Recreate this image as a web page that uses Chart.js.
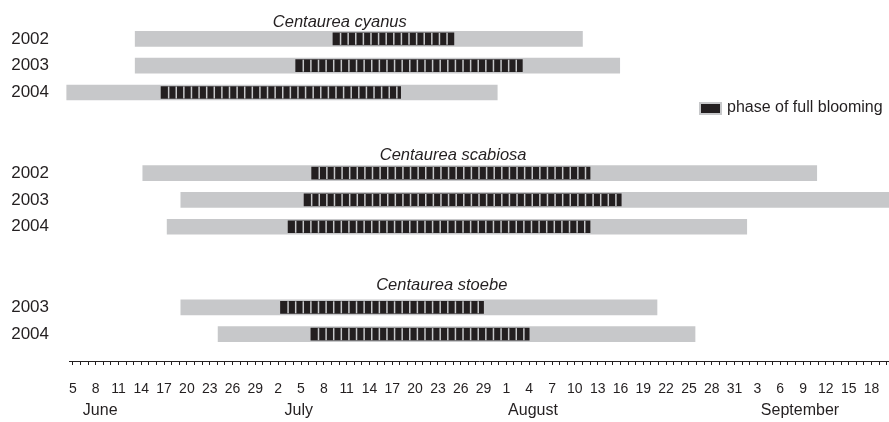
<!DOCTYPE html>
<html>
<head>
<meta charset="utf-8">
<script src="https://cdn.jsdelivr.net/npm/chart.js@4.4.1/dist/chart.umd.min.js"></script>
<style>
body { margin: 0; background: #fff; }
#wrap { width: 889px; height: 422px; }
</style>
</head>
<body>
<div id="wrap"><canvas id="phenology"></canvas></div>
<script>
// day numbers counted from May 31: 1 = June 1, 31 = July 1, 62 = August 1, 93 = September 1
const rowLabels = ['', '2002', '2003', '2004', '', '', '2002', '2003', '2004', '', '', '2003', '2004', ''];
const floweringPeriod = [null, [13.2, 72.0], [13.2, 76.9], [4.2, 60.8], null, null,
    [14.2, 102.8], [19.2, 112.3], [17.4, 93.6], null, null, [19.2, 81.8], [24.1, 86.8], null];
const fullBlooming = [null, [39.2, 55.1], [34.3, 64.1], [16.6, 48.1], null, null,
    [36.4, 73.0], [35.4, 77.1], [33.3, 73.0], null, null, [32.3, 59.0], [36.3, 65.0], null];

const species = ['Centaurea cyanus', 'Centaurea scabiosa', 'Centaurea stoebe'];
const speciesDay = [40.1, 55.0, 53.5];
const speciesRow = [0.37, 5.33, 10.17];

const monthNames = ['June', 'July', 'August', 'September'];
const monthStarts = [1, 31, 62, 93];
const monthLabelDays = [8.6, 34.7, 65.5, 100.6];

const firstDay = 5;
const lastDay = 112;
const legendText = 'phase of full blooming';

const ink = '#231f20';
const grey = '#c7c8ca';

Chart.defaults.font.family = 'Liberation Sans, Arial, sans-serif';
Chart.defaults.color = ink;

function dayOfMonth(v) {
    let start = monthStarts[0];
    monthStarts.forEach(s => { if (v >= s) start = s; });
    return v - start + 1;
}

function noSidePadding(scale) {
    scale.paddingLeft = 0;
    scale.paddingRight = 0;
}

// light gaps between the daily blocks of full blooming + species names + legend
const decorations = {
    id: 'decorations',
    afterDatasetsDraw(chart) {
        const ctx = chart.ctx;
        const x = chart.scales.x;
        const y = chart.scales.y;
        const meta = chart.getDatasetMeta(1);

        ctx.save();
        ctx.strokeStyle = grey;
        ctx.lineWidth = 1.5;
        meta.data.forEach((bar, i) => {
            const range = fullBlooming[i];
            if (!range) return;
            const top = bar.y - bar.height / 2;
            const bottom = bar.y + bar.height / 2;
            for (let d = range[0] + 1; d < range[1] - 0.3; d++) {
                const px = x.getPixelForValue(d);
                ctx.beginPath();
                ctx.moveTo(px, top);
                ctx.lineTo(px, bottom);
                ctx.stroke();
            }
        });

        ctx.fillStyle = ink;
        ctx.font = 'italic 16.5px Liberation Sans, Arial, sans-serif';
        ctx.textAlign = 'center';
        ctx.textBaseline = 'middle';
        species.forEach((name, i) => {
            ctx.fillText(name, x.getPixelForValue(speciesDay[i]), y.getPixelForValue(speciesRow[i]));
        });

        // legend
        ctx.fillStyle = grey;
        ctx.fillRect(699, 102, 23, 13);
        ctx.fillStyle = ink;
        ctx.fillRect(701, 104, 19, 9);
        ctx.font = '16px Liberation Sans, Arial, sans-serif';
        ctx.textAlign = 'left';
        ctx.fillText(legendText, 727, 108);
        ctx.restore();
    }
};

new Chart(document.getElementById('phenology'), {
    type: 'bar',
    data: {
        labels: rowLabels,
        datasets: [
            {
                label: 'flowering',
                data: floweringPeriod,
                backgroundColor: grey,
                barThickness: 15,
                grouped: false,
                clip: false,
                order: 2
            },
            {
                label: legendText,
                data: fullBlooming,
                backgroundColor: ink,
                barThickness: 12,
                grouped: false,
                order: 1
            }
        ]
    },
    options: {
        indexAxis: 'y',
        responsive: true,
        maintainAspectRatio: false,
        animation: false,
        layout: { padding: { top: 12, left: 0, right: 0, bottom: 0 } },
        plugins: {
            legend: { display: false },
            tooltip: { enabled: false }
        },
        scales: {
            y: {
                type: 'category',
                offset: false,
                grid: { display: false, drawTicks: false },
                border: { display: false },
                ticks: { font: { size: 17 }, padding: 20, autoSkip: false },
                afterFit(scale) {
                    scale.width = 69;
                    scale.paddingTop = 0;
                    scale.paddingBottom = 0;
                }
            },
            x: {
                type: 'linear',
                position: 'bottom',
                min: 4.5,
                max: 112.3,
                weight: 0,
                grid: { drawOnChartArea: false, drawTicks: true, tickLength: 4, color: ink, lineWidth: 1 },
                border: { display: true, color: ink, width: 1 },
                afterBuildTicks(scale) {
                    const ticks = [];
                    for (let d = firstDay; d <= lastDay; d++) ticks.push({ value: d });
                    scale.ticks = ticks;
                },
                ticks: {
                    autoSkip: false,
                    maxRotation: 0,
                    minRotation: 0,
                    padding: 16,
                    font: { size: 14 },
                    callback: (v) => ((v - firstDay) % 3 === 0 ? String(dayOfMonth(v)) : '')
                },
                afterFit(scale) {
                    scale.height = 36;
                    noSidePadding(scale);
                }
            },
            month: {
                type: 'linear',
                position: 'bottom',
                axis: 'x',
                min: 4.5,
                max: 112.3,
                weight: 1,
                grid: { display: false, drawTicks: false },
                border: { display: false },
                afterBuildTicks(scale) {
                    scale.ticks = monthLabelDays.map(v => ({ value: v }));
                },
                ticks: {
                    autoSkip: false,
                    maxRotation: 0,
                    padding: 4,
                    font: { size: 16 },
                    callback: (v, i) => monthNames[i]
                },
                afterFit(scale) {
                    scale.height = 25;
                    noSidePadding(scale);
                }
            }
        }
    },
    plugins: [decorations]
});
</script>
</body>
</html>
